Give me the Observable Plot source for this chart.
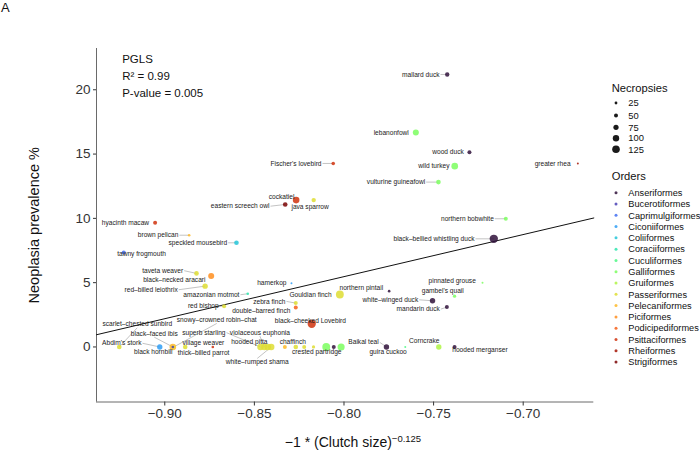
<!DOCTYPE html>
<html><head><meta charset="utf-8">
<script src="https://cdn.jsdelivr.net/npm/d3@7"></script>
<script src="https://cdn.jsdelivr.net/npm/@observablehq/plot@0.6"></script>
<style>
body{margin:0;background:#fff;font-family:"Liberation Sans",Arial,sans-serif}
#wrap{position:relative;width:700px;height:451px}
</style>
</head><body><div id="wrap"></div>
<script>
// ---------- data ----------
const orders = ["Anseriformes","Bucerotiformes","Caprimulgiformes","Ciconiiformes","Coliiformes","Coraciiformes","Cuculiformes","Galliformes","Gruiformes","Passeriformes","Pelecaniformes","Piciformes","Podicipediformes","Psittaciformes","Rheiformes","Strigiformes"];
const species = ["mallard duck","lebanonfowl","wood duck","wild turkey","greater rhea","vulturine guineafowl","Fischer's lovebird","cockatiel","eastern screech owl","java sparrow","speckled mousebird","hamerkop","hyacinth macaw","brown pelican","tawny frogmouth","taveta weaver","black–necked aracari","red–billed leiothrix","amazonian motmot","red bishop","Gouldian finch","zebra finch","double–barred finch","black–cheeked Lovebird","northern pintail","white–winged duck","mandarin duck","gambel's quail","pinnated grouse","northern bobwhite","black–bellied whistling duck","scarlet–chested sunbird","Abdim's stork","snowy–crowned robin–chat","black–faced ibis","black hornbill","village weaver","thick–billed parrot","superb starling","violaceous euphonia","hooded pitta","white–rumped shama","","chaffinch","","","crested partridge","","","Baikal teal","guira cuckoo","Corncrake","hooded merganser"];
const clutchX = [-0.7424,-0.7599,-0.7300,-0.7382,-0.6695,-0.7473,-0.8060,-0.8267,-0.8328,-0.8169,-0.8600,-0.8293,-0.9054,-0.8864,-0.9229,-0.8823,-0.8741,-0.8775,-0.8537,-0.8669,-0.8023,-0.8269,-0.8269,-0.8180,-0.7748,-0.7506,-0.7426,-0.7383,-0.7227,-0.7097,-0.7164,-0.9254,-0.9028,-0.8950,-0.8955,-0.8955,-0.8886,-0.8732,-0.8466,-0.8444,-0.8425,-0.8406,-0.8330,-0.8269,-0.8222,-0.8170,-0.8099,-0.8057,-0.8016,-0.7763,-0.7658,-0.7471,-0.7383];
const prevalence = [21.19,16.68,15.15,14.06,14.27,12.82,14.27,11.42,11.08,11.42,8.10,4.96,9.66,8.69,7.35,5.72,5.51,4.73,4.14,3.17,4.08,3.41,3.07,1.80,4.34,3.59,3.10,3.95,4.99,9.97,8.41,0,0,0,0,0,0,0,0,0,0,0,0,0,0,0,0,0,0,0,0,0,0];
const necropsies = [58,92,50,105,8,63,42,105,63,58,63,8,50,21,50,63,92,79,21,50,130,50,50,140,21,79,50,35,8,50,140,63,79,30,105,21,63,21,100,100,100,100,50,63,50,35,130,50,115,79,8,79,50];
const speciesOrder = ["Anseriformes","Galliformes","Anseriformes","Galliformes","Rheiformes","Galliformes","Psittaciformes","Psittaciformes","Strigiformes","Passeriformes","Coliiformes","Ciconiiformes","Psittaciformes","Pelecaniformes","Caprimulgiformes","Passeriformes","Piciformes","Passeriformes","Coraciiformes","Passeriformes","Passeriformes","Passeriformes","Podicipediformes","Psittaciformes","Anseriformes","Anseriformes","Anseriformes","Galliformes","Galliformes","Galliformes","Anseriformes","Passeriformes","Ciconiiformes","Passeriformes","Pelecaniformes","Bucerotiformes","Passeriformes","Psittaciformes","Passeriformes","Passeriformes","Passeriformes","Passeriformes","Pelecaniformes","Passeriformes","Passeriformes","Passeriformes","Galliformes","Anseriformes","Galliformes","Anseriformes","Cuculiformes","Gruiformes","Anseriformes"];
const xTicks = [-0.90,-0.85,-0.80,-0.75,-0.70];
const yTicks = [0,5,10,15,20];
const necropsyKeys = [25,50,75,100,125];
const fitX = [-0.9381,-0.6606];
const fitY = [0.95,10.03];
const stats = ["PGLS","R² = 0.99","P-value = 0.005"];

// ---------- layout (label offsets in px: dx, dy, anchor, leader) ----------
const labelLayout = [
[-7.7,0,"end",1],[-7,0,"end",0],[-5.7,0,"end",0],[-5.3,0,"end",0],[-7.3,0,"end",0],[-13.3,0,"end",1],
[-11.7,0,"end",1],[-1.7,-3.7,"end",0],[-15.7,1.7,"end",1],[-3.6,7,"middle",0],[-9.3,0,"end",1],[-5,0,"end",0],
[-6,0,"end",0],[-10.7,0,"end",1],[-6.6,1.3,"start",0],[-13.3,-2.7,"end",1],[-5.7,3.6,"end",0],[-27.4,3.6,"end",1],
[-8.3,1,"end",1],[-5.4,0,"end",1],[-8.3,0,"end",0],[-10.3,-1.7,"end",1],[-5.3,3.7,"end",0],[-1.3,-3,"middle",0],
[-6,-3,"end",0],[-14.3,-1,"end",1],[-7,2,"end",1],[-11.8,-5,"middle",0],[-6.7,-1.6,"end",0],[-12,0,"end",1],
[-19.3,0,"end",1],[18,-22.7,"middle",1],[-18.3,-3.7,"end",1],[43,-27,"middle",1],[-18.6,-13.3,"middle",1],
[-0.3,5.3,"end",0],[-2.7,-4.3,"start",0],[-9.2,5.7,"middle",0],[-35,-14.3,"end",1],[-4.5,-14.3,"middle",1],
[-18.5,-4.7,"middle",0],[-14,15,"middle",1],null,[-3,-4.7,"middle",0],null,null,[-9.5,5.3,"middle",0],null,null,
[-7.7,-4.6,"end",1],[-17.2,5.4,"middle",0],[0.7,-5.6,"end",0],[-2.3,3.4,"start",0]
];

const W = 700, H = 451, mL = 96, mR = 106.7, mT = 48, mB = 49.5;
const xDomain = [-0.9381, -0.6606], yDomain = [-4.28, 23.21];
const rDomain = [0, 125], rRange = [0.8, 3.8];
const FONT = "'Liberation Sans', Arial, sans-serif";
const orderColors = orders.map((_, i) => i === 0 ? "#30123B" : i === orders.length - 1 ? "#7A0403" : d3.interpolateTurbo(i / (orders.length - 1)));

const rows = species.map((s, i) => ({name: s, x: clutchX[i], y: prevalence[i], n: necropsies[i], order: speciesOrder[i], lay: labelLayout[i]}));
const kx = (xDomain[1] - xDomain[0]) / (W - mL - mR);
const ky = (yDomain[1] - yDomain[0]) / (H - mT - mB);
const leaders = rows.filter(d => d.lay && d.lay[3]).map(d => {
  const [dx, dy, a] = d.lay;
  let ex = dx, ey = dy;
  if (a === "end") ex = dx + 1; else if (a === "start") ex = dx - 1; else ey = dy + (dy < 0 ? 3.5 : -3.5);
  return {x1: d.x, y1: d.y, x2: d.x + ex * kx, y2: d.y - ey * ky};
});
const labelMarks = rows.filter(d => d.lay && d.name).map(d => Plot.text([d], {
  x: "x", y: "y", text: "name", dx: d.lay[0], dy: d.lay[1], textAnchor: d.lay[2], fontSize: 6.6, fill: "#1a1a1a"
}));

const plot = Plot.plot({
  width: W, height: H, marginLeft: mL, marginRight: mR, marginTop: mT, marginBottom: mB,
  style: {fontFamily: FONT, background: "white", color: "#333"},
  x: {domain: xDomain},
  y: {domain: yDomain},
  r: {type: "linear", domain: rDomain, range: rRange},
  color: {domain: orders, range: orderColors},
  marks: [
    Plot.axisX(xTicks, {tickSize: 4, tickPadding: 2, fontSize: 13.5, label: null, tickFormat: d3.format(".2f")}),
    Plot.axisY(yTicks, {tickSize: 3, tickPadding: 3, fontSize: 13.5, label: null}),
    Plot.ruleX([xDomain[0]], {stroke: "#444", strokeWidth: 0.8}),
    Plot.ruleY([yDomain[0]], {stroke: "#444", strokeWidth: 0.8}),
    Plot.line(fitX, {x: fitX, y: fitY, stroke: "#111", strokeWidth: 1}),
    Plot.link(leaders, {x1: "x1", y1: "y1", x2: "x2", y2: "y2", stroke: "#9a9a9a", strokeWidth: 0.6}),
    Plot.dot(rows, {x: "x", y: "y", r: "n", fill: "order", fillOpacity: 0.85}),
    ...labelMarks,
    Plot.text([stats[0]], {frameAnchor: "top-left", dx: 25.7, dy: 11, lineAnchor: "middle", textAnchor: "start", fontSize: 11.5, fill: "#111"}),
    Plot.text([stats[1]], {frameAnchor: "top-left", dx: 25.7, dy: 28, lineAnchor: "middle", textAnchor: "start", fontSize: 11.5, fill: "#111"}),
    Plot.text([stats[2]], {frameAnchor: "top-left", dx: 25.7, dy: 44.7, lineAnchor: "middle", textAnchor: "start", fontSize: 11.5, fill: "#111"}),
    Plot.text(["Neoplasia prevalence %"], {frameAnchor: "left", dx: -62, rotate: -90, textAnchor: "middle", lineAnchor: "middle", fontSize: 14.5, fill: "#111"})
  ]
});
document.getElementById("wrap").appendChild(plot);

// extra text and legends inside the same svg
const svg = d3.select(plot);
svg.append("text").attr("x", 1).attr("y", 12).attr("text-anchor", "start").attr("font-size", 13).attr("font-family", FONT).attr("fill", "#111").text("A");
const xt = svg.append("text").attr("x", 353).attr("y", 447).attr("text-anchor", "middle").attr("font-size", 14).attr("font-family", FONT).attr("fill", "#111");
xt.append("tspan").text("−1 * (Clutch size)");
xt.append("tspan").attr("font-size", 9.5).attr("dy", -5).text("−0.125");

const rScale = d3.scaleLinear(rDomain, rRange);
const lg = svg.append("g").attr("font-family", FONT).attr("fill", "#111").attr("text-anchor", "start");
lg.append("text").attr("x", 611.7).attr("y", 87.7).attr("dy", "0.35em").attr("font-size", 11.2).text("Necropsies");
const sizeKeyY = [103, 115.5, 127.3, 138.2, 149.3];
necropsyKeys.forEach((v, i) => {
  lg.append("circle").attr("cx", 616).attr("cy", sizeKeyY[i]).attr("r", rScale(v)).attr("fill", "#1a1a1a");
  lg.append("text").attr("x", 628.3).attr("y", sizeKeyY[i]).attr("dy", "0.35em").attr("font-size", 9.4).text(v);
});
lg.append("text").attr("x", 611.7).attr("y", 175.7).attr("dy", "0.35em").attr("font-size", 11.2).text("Orders");
orders.forEach((o, i) => {
  const y = 192.7 + i * 11.29;
  lg.append("circle").attr("cx", 616).attr("cy", y).attr("r", 1.5).attr("fill", orderColors[i]).attr("fill-opacity", 0.85);
  lg.append("text").attr("x", 628.3).attr("y", y).attr("dy", "0.35em").attr("font-size", 9.2).text(o);
});
</script>
</body></html>
